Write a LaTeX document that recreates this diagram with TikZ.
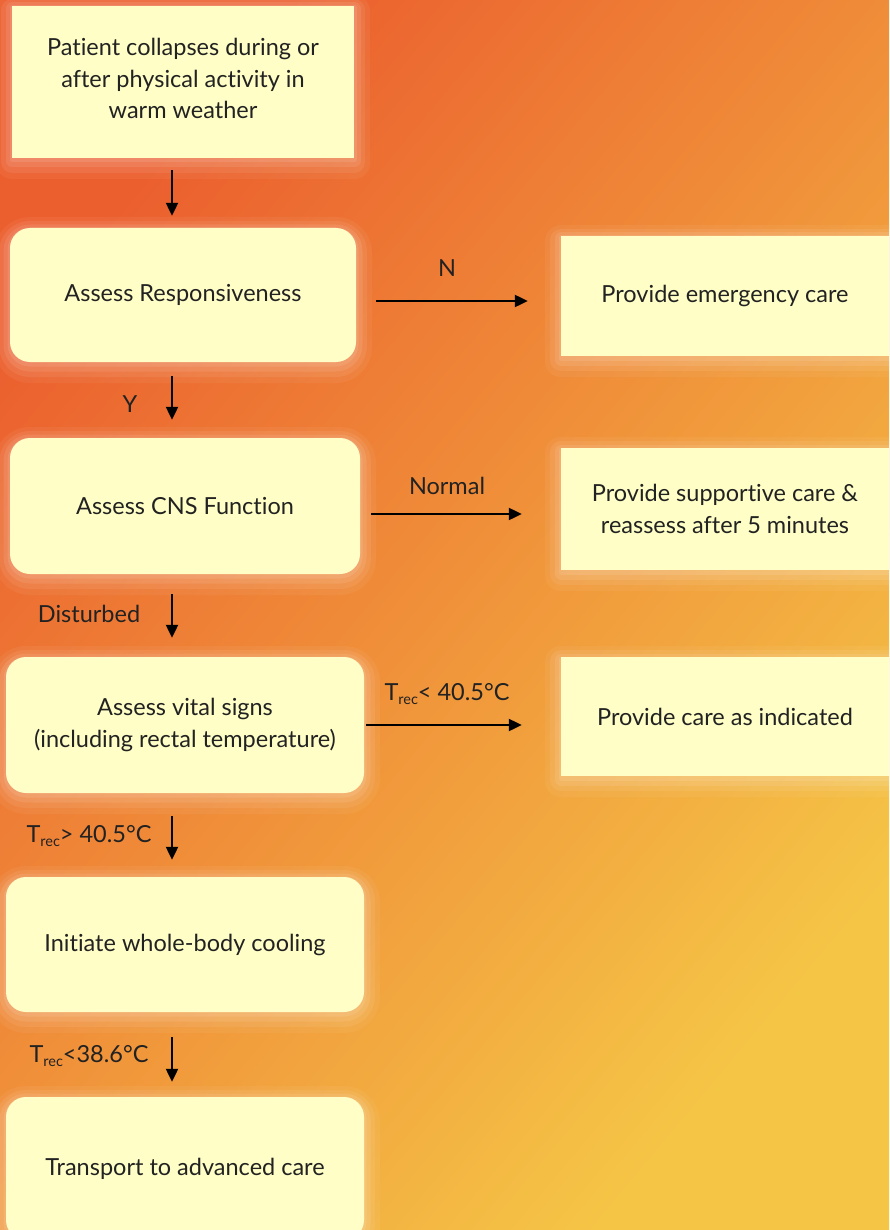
\documentclass[tikz,border=0pt]{standalone}
\usepackage{fontspec}
\setmainfont{Lato}[Ligatures=NoCommon]
\usetikzlibrary{arrows.meta}
\definecolor{boxfill}{HTML}{FEFEC6}
\definecolor{txt}{HTML}{222222}
\definecolor{bgA}{HTML}{EB5E2E}
\definecolor{bgB}{HTML}{F0943B}
\definecolor{bgC}{HTML}{F5C646}
\newcommand\Trec{T\raisebox{-0.3ex}{\fontsize{14.5}{14.5}\selectfont rec}}
\tikzset{
  glow/.style={
    preaction={draw=white,draw opacity=.05,line width=32pt,line join=round,transform canvas={yshift=-5pt}},
    preaction={draw=white,draw opacity=.07,line width=22pt,line join=round,transform canvas={yshift=-4pt}},
    preaction={draw=white,draw opacity=.09,line width=13pt,line join=round,transform canvas={yshift=-3pt}},
    preaction={draw=white,draw opacity=.10,line width=5pt,line join=round,transform canvas={yshift=-2pt}}},
  box/.style={fill=boxfill,text=txt,align=center,inner sep=0pt,
    font=\fontsize{23.5}{31.5}\selectfont,glow},
  sqbox/.style={box},
  rdbox/.style={box,rounded corners=20pt},
  arr/.style={draw=black,line width=2.2pt,-{Triangle[length=13pt,width=12pt]}},
  lbl/.style={text=txt,font=\fontsize{23.5}{25}\selectfont,inner sep=0pt}
}
\begin{document}
\begin{tikzpicture}[x=1pt,y=-1pt]
\useasboundingbox (0,0) rectangle (889,1230);
\clip (0,0) rectangle (889,1230);
\shade[top color=bgA,middle color=bgB,bottom color=bgC,shading angle=50] (0,0) rectangle (889,1230);

\node[sqbox,minimum width=342pt,minimum height=152pt] (b1) at (183,82)
  {Patient collapses during or\\after physical activity in\\warm weather\\[-25pt]};
\node[rdbox,minimum width=346pt,minimum height=134pt] (b2) at (183,295)
  {Assess Responsiveness};
\node[sqbox,minimum width=328pt,minimum height=120pt] (b3) at (725,296)
  {Provide emergency care};
\node[rdbox,minimum width=350pt,minimum height=136pt] (b4) at (185,506)
  {Assess CNS Function};
\node[sqbox,minimum width=328pt,minimum height=122pt] (b5) at (725,509)
  {Provide supportive care \&\\reassess after 5 minutes};
\node[rdbox,minimum width=358pt,minimum height=136pt] (b6) at (185,725)
  {Assess vital signs\\(including rectal temperature)};
\node[sqbox,minimum width=328pt,minimum height=119pt] (b7) at (725,716.5)
  {Provide care as indicated};
\node[rdbox,minimum width=358pt,minimum height=135pt] (b8) at (185,944.5)
  {Initiate whole-body cooling};
\node[rdbox,minimum width=358pt,minimum height=143pt] (b9) at (185,1168.5)
  {Transport to advanced care};

% vertical arrows
\draw[arr,shorten <=12pt,shorten >=12pt] ([xshift=-11pt]b1.south) -- ([xshift=-11pt]b1.south |- b2.north);
\draw[arr,shorten <=14pt,shorten >=18pt] ([xshift=-11pt]b2.south) -- ([xshift=-11pt]b2.south |- b4.north);
\draw[arr,shorten <=20pt,shorten >=19pt] ([xshift=-13pt]b4.south) -- ([xshift=-13pt]b4.south |- b6.north);
\draw[arr,shorten <=23pt,shorten >=17pt] ([xshift=-13pt]b6.south) -- ([xshift=-13pt]b6.south |- b8.north);
\draw[arr,shorten <=25pt,shorten >=15pt] ([xshift=-13pt]b8.south) -- ([xshift=-13pt]b8.south |- b9.north);

% horizontal arrows
\draw[arr,shorten <=20pt,shorten >=33pt] ([yshift=-6pt]b2.east) -- ([yshift=-6pt]b2.east -| b3.west);
\draw[arr,shorten <=11pt,shorten >=39pt] ([yshift=-8pt]b4.east) -- ([yshift=-8pt]b4.east -| b5.west);
\draw[arr,shorten <=2pt,shorten >=39pt] (b6.east) -- (b6.east -| b7.west);

% labels
\node[lbl] (lN) at (447,268) {N};
\node[lbl] (lY) at (130,404) {Y};
\node[lbl] (lNormal) at (447,486) {Normal};
\node[lbl] (lDist) at (89,614) {Disturbed};
\node[lbl] (lT1) at (447,694) {\Trec< 40.5°C};
\node[lbl] (lT2) at (89,836) {\Trec> 40.5°C};
\node[lbl] (lT3) at (89,1056) {\Trec<38.6°C};
\end{tikzpicture}
\end{document}
